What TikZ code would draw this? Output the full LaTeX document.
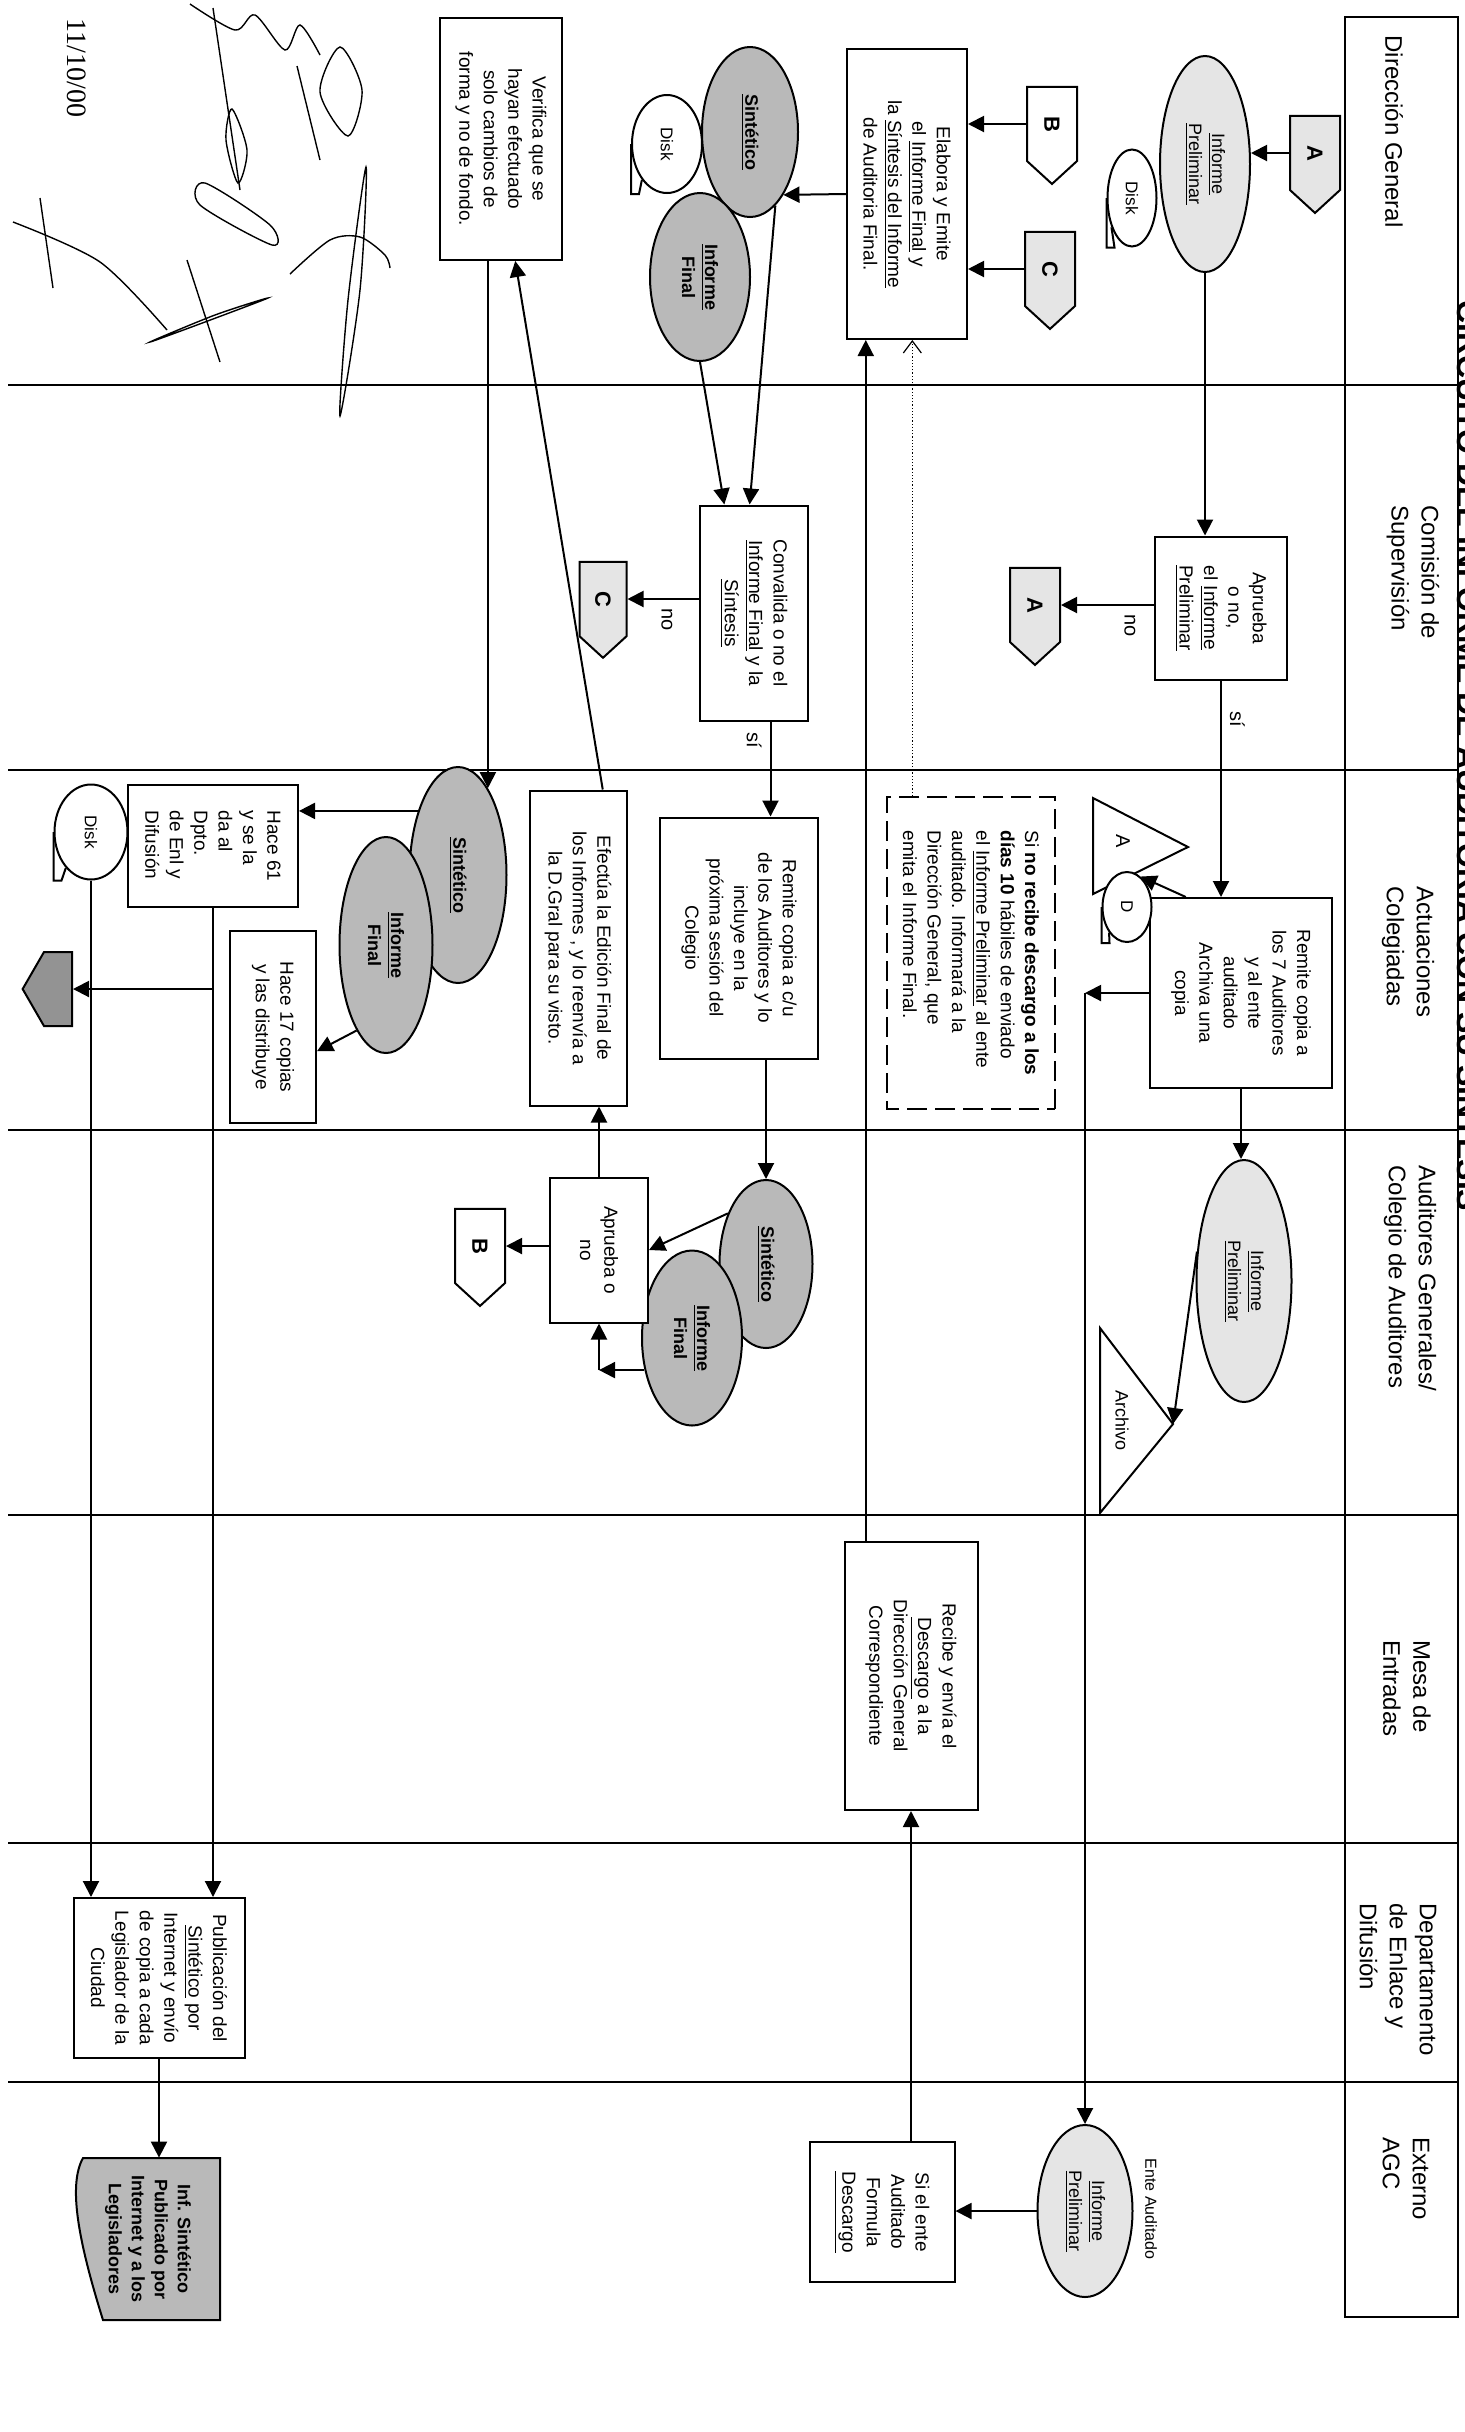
\documentclass[tikz,border=0pt]{standalone}
\usepackage{fontspec}
\setmainfont{Liberation Sans}
\newfontfamily\fechafont{Liberation Serif}
\usetikzlibrary{arrows.meta,shapes.geometric,shapes.symbols,calc}

\tikzset{
  lane/.style={line width=1pt},
  proc/.style={draw, line width=1pt, fill=white, align=center, inner sep=2pt,
    font=\fontsize{9.5}{12.2}\selectfont},
  dashbox/.style={proc, dash pattern=on 10pt off 4pt, align=left},
  docel/.style={draw, ellipse, line width=1pt, inner sep=0pt, align=center,
    font=\fontsize{9}{11.5}\selectfont},
  lightel/.style={docel, fill=gray!20},
  darkel/.style={docel, fill=gray!55, font=\fontsize{9}{11.5}\selectfont\bfseries},
  offpg/.style={draw, signal, signal to=east, signal pointer angle=95, line width=1pt,
    minimum width=48.5pt, minimum height=25pt, inner sep=0pt,
    font=\fontsize{11}{12}\selectfont\bfseries},
  diskst/.style={draw, ellipse, line width=1pt, fill=white, inner sep=0pt,
    font=\fontsize{8.5}{10}\selectfont},
  arr/.style={line width=1pt, -{Triangle[length=8pt,width=8pt]}},
  dotarr/.style={line width=0.6pt, densely dotted, -{Straight Barb[length=6pt,width=9pt]}},
  hdr/.style={anchor=west, align=left, inner sep=0pt, font=\fontsize{12}{15}\selectfont},
  lbl/.style={inner sep=1pt, font=\fontsize{10}{12}\selectfont},
  firma/.style={line width=0.7pt},
}
\newcommand{\disktail}[1]{\draw[line width=1pt] (#1.south) -- (#1.south -| #1.east) -- ++(0,8) -- (#1.325);}

\begin{document}
\begin{tikzpicture}[x=0.5pt, y=0.5pt, rotate=-90, transform shape]
\useasboundingbox (0,0) rectangle (2432,1464);
\fill[white] (0,0) rectangle (2432,1464);

% carriles
\foreach \ly in {385,770,1130,1515,1843,2082}
  \draw[lane] (\ly,8) -- (\ly,1458);
\draw[lane] (17,1345) rectangle (2317,1458);

\node[hdr] (hDG) at (35,1394) {Dirección General};
\node[hdr] (hCS) at (505,1413) {Comisión de\\Supervisión};
\node[hdr] (hAC) at (886,1408) {Actuaciones\\Colegiadas};
\node[hdr] (hAG) at (1165,1410) {Auditores Generales/\\Colegio de Auditores};
\node[hdr] (hME) at (1640,1407) {Mesa de\\Entradas};
\node[hdr] (hDE) at (1903,1398) {Departamento\\de Enlace y\\Difusión};
\node[hdr] (hEX) at (2137,1406) {Externo\\AGC};

\node[anchor=base west, inner sep=0pt, font=\bfseries\fontsize{16}{18}\selectfont] (titulo) at (300,1457) {CIRCUITO DEL INFORME DE AUDITORIA CON SU SINTESIS};

% fecha y firma
\node[inner sep=0pt, font=\fechafont\fontsize{14}{16}\selectfont] (fecha) at (68,77) {11/10/00};
\draw[firma] plot[smooth cycle] coordinates {(167,366) (290,360) (416,340) (300,348)};
\draw[firma] plot[smooth] coordinates {(274,290) (240,330) (237,360) (255,385) (268,390)};
\draw[firma] plot[smooth cycle] coordinates {(47,340) (90,362) (136,348) (92,320)};
\draw[firma] (66,297) -- (160,320);
\draw[firma] plot[smooth] coordinates {(4,190) (30,235) (15,255) (50,285) (25,300) (55,320)};
\draw[firma] plot[smooth cycle] coordinates {(342,150) (315,215) (298,268) (322,205)};
\draw[firma] (260,187) -- (362,220);
\draw[firma] plot[smooth cycle] coordinates {(183,205) (225,270) (245,272) (205,200)};
\draw[firma] (198,40) -- (288,53);
\draw[firma] plot[smooth] coordinates {(222,13) (262,100) (330,167)};
\draw[firma] (8,213) -- (190,240);
\draw[firma] plot[smooth cycle] coordinates {(109,232) (150,247) (183,238) (140,226)};

% Direccion General
\node[offpg, fill=gray!20] (cA1) at (153,1315) {A};
\node[lightel, minimum width=108pt, minimum height=45pt] (ipDG) at (164,1205) {\underline{Informe}\\\underline{Preliminar}};
\node[diskst, minimum width=48.5pt, minimum height=24.5pt] (dkA) at (198,1132) {Disk};
\disktail{dkA}
\node[offpg, fill=white] (cB1) at (124,1052) {B};
\node[offpg, fill=gray!20] (cC1) at (269,1050) {C};
\node[proc, minimum width=145pt, minimum height=60pt] (elab) at (194,907) {Elabora y Emite\\el \underline{Informe Final} y\\la \underline{Síntesis del Informe}\\de Auditoria Final.};
\node[diskst, minimum width=49pt, minimum height=35pt] (dkDG) at (144,667) {Disk};
\disktail{dkDG}
\node[darkel, minimum width=85pt, minimum height=48pt] (sinDG) at (132,750) {\underline{Sintético}};
\node[darkel, minimum width=84pt, minimum height=50pt] (finDG) at (277,700) {\underline{Informe}\\Final};
\node[proc, minimum width=121pt, minimum height=61pt] (verif) at (139,501) {Verifica que se\\hayan efectuado\\solo cambios de\\forma y no de fondo.};

% Comision de Supervision
\node[proc, minimum width=71.5pt, minimum height=66pt] (apr) at (608,1221) {Aprueba\\o no,\\el \underline{Informe}\\\underline{Preliminar}};
\node[offpg, fill=gray!20] (cA2) at (605,1035) {A};
\node[proc, minimum width=107.5pt, minimum height=54pt] (conv) at (613,754) {Convalida o no el\\\underline{Informe Final} y la\\\underline{Síntesis}};
\node[offpg, fill=gray!20, minimum width=48pt, minimum height=23.5pt] (cC2) at (599,603) {C};

% Actuaciones Colegiadas
\node[proc, minimum width=95pt, minimum height=91pt] (rem7) at (993,1241) {Remite copia a\\los 7 Auditores\\y al ente\\auditado\\Archiva una\\copia};
\draw[line width=1pt, fill=white] (798,1093) -- (894,1093) -- (847,1188) -- cycle;
\node[lbl] (letA) at (841,1123) {A};
\node[diskst, minimum width=35pt, minimum height=24.5pt] (dkD) at (907,1127) {D};
\disktail{dkD}
\node[dashbox, minimum width=156pt, minimum height=84pt] (dsh) at (953,971) {Si \textbf{no recibe descargo a los}\\\textbf{días 10} hábiles de enviado\\el \underline{Informe Preliminar} al ente\\auditado. Informará a la\\Dirección General, que\\emita el Informe Final.};
\node[proc, minimum width=120.5pt, minimum height=79pt] (remCu) at (938,739) {Remite copia a c/u\\de los Auditores y lo\\incluye en la\\próxima sesión del\\Colegio};
\node[proc, minimum width=157.5pt, minimum height=48.5pt] (efect) at (948,578) {Efectúa la Edición Final de\\los Informes , y lo reenvía a\\la D.Gral para su visto.};
\node[darkel, minimum width=108pt, minimum height=48.5pt] (sinAC) at (875,458) {\underline{Sintético}};
\node[darkel, minimum width=108pt, minimum height=46.5pt] (finAC) at (945,386) {\underline{Informe}\\Final};
\node[proc, align=left, minimum width=61pt, minimum height=85pt] (hace61) at (846,213) {Hace 61\\y se la\\da al\\Dpto.\\de Enl y\\Difusión};
\node[diskst, minimum width=47.5pt, minimum height=36.5pt] (dkAC) at (832,91) {Disk};
\disktail{dkAC}
\node[proc, minimum width=96pt, minimum height=43pt] (hace17) at (1027,273) {Hace 17 copias\\y las distribuye};
\node[draw, signal, signal to=south, signal pointer angle=120, line width=1pt, fill=gray!85,
  minimum width=37pt, minimum height=14pt, inner sep=0pt] (opg) at (989,58) {};

% Auditores Generales / Colegio
\node[lightel, minimum width=121pt, minimum height=47.5pt] (ipAG) at (1281,1244) {\underline{Informe}\\\underline{Preliminar}};
\draw[line width=1pt, fill=white] (1328,1100) -- (1513,1100) -- (1424,1173) coordinate (arcApex) -- cycle;
\node[lbl, font=\fontsize{9}{11}\selectfont] (archivo) at (1420,1122) {Archivo};
\node[darkel, minimum width=84pt, minimum height=46.5pt] (sinAG) at (1264,766) {\underline{Sintético}};
\node[darkel, minimum width=87.5pt, minimum height=50pt] (finAG) at (1338,692) {\underline{Informe}\\Final};
\node[proc, minimum width=72.5pt, minimum height=49pt] (aprNo) at (1250,599) {Aprueba o\\no};
\node[offpg, fill=white] (cB2) at (1246,480) {B};

% Mesa de Entradas
\node[proc, minimum width=134pt, minimum height=66.5pt] (rec) at (1676,911) {Recibe y envía el\\\underline{Descargo} a la\\Dirección General\\Correspondiente};

% Departamento de Enlace y Difusion
\node[proc, minimum width=80pt, minimum height=85.5pt] (pub) at (1978,159) {Publicación del\\\underline{Sintético} por\\Internet y envío\\de copia a cada\\Legislador de la\\Ciudad};
\filldraw[line width=1pt, fill=gray!55] (2158,220) -- (2320,220) -- (2320,103) .. controls (2240,78) and (2185,68) .. (2158,83) -- cycle;
\node[inner sep=0pt, align=center, minimum width=81pt, minimum height=72.5pt,
  font=\fontsize{9}{11.5}\selectfont\bfseries] (docI) at (2239,148) {Inf. Sintético\\Publicado por\\Internet y a los\\Legisladores};

% Externo AGC
\node[lightel, minimum width=86pt, minimum height=47.5pt] (ipEX) at (2211,1085) {\underline{Informe}\\\underline{Preliminar}};
\node[inner sep=0pt, font=\fontsize{8}{10}\selectfont] (ente) at (2209,1151) {Ente Auditado};
\node[proc, minimum width=70pt, minimum height=72.5pt] (dsc) at (2212,882) {Si el ente\\Auditado\\Formula\\\underline{Descargo}};

% conectores
\draw[arr] (cA1.south) -- (cA1.south |- ipDG.north);
\draw[arr] (ipDG.east) -- (ipDG.east -| apr.west);
\draw[arr] (cB1.south) -- (cB1.south |- elab.north);
\draw[arr] (cC1.south) -- (cC1.south |- elab.north);
\draw[arr] (elab.south) -- (sinDG.28);
\draw[arr] (finDG.east) -- ($(conv.north west)!0.77!(conv.south west)$);
\draw[arr] (sinDG.19) -- ($(conv.north west)!0.54!(conv.south west)$);
\draw[arr] (verif.east |- sinAC.161) -- (sinAC.161);
\draw[arr] ($(efect.north west)!0.25!(efect.south west)$) -- ($(verif.north east)!0.385!(verif.south east)$);
\draw[arr] (cA2.north |- apr.south) -- node[lbl, pos=0.26, right=3pt] {no} (cA2.north);
\draw[arr] (apr.east) -- node[lbl, pos=0.18, above=3pt] {sí} (apr.east -| rem7.west);
\draw[arr] (cC2.north |- conv.south) -- node[lbl, pos=0.45, right=3pt] {no} (cC2.north);
\coordinate (cvS) at ($(conv.north east)!0.35!(conv.south east)$);
\draw[arr] (cvS) -- node[lbl, pos=0.2, below=3pt] {sí} (cvS -| remCu.west);
\draw[arr] ($(rem7.north west)!0.8!(rem7.south west)$) -- (dkD.156);
\coordinate (k1) at (rem7.south |- ipEX.west);
\draw[arr] (rem7.south) -- (k1);
\draw[arr] (k1) -- (ipEX.west);
\draw[arr] (rem7.east) -- (rem7.east -| ipAG.west);
\draw[arr] (ipAG.238) -- (arcApex);
\coordinate (dq) at ($(dsh.north west)!0.845!(dsh.south west)$);
\draw[dotarr] (dq) -- (dq -| elab.east);
\coordinate (rq) at ($(rec.north west)!0.835!(rec.south west)$);
\draw[arr] (rq) -- (rq -| elab.east);
\draw[arr] (sinAG.west -| remCu.east) -- (sinAG.west);
\draw[arr] (aprNo.west) -- (aprNo.west -| efect.east);
\draw[arr] (sinAG.217) -- (aprNo.north);
\coordinate (k2) at (finAG.304 |- aprNo.east);
\draw[arr] (finAG.304) -- (k2);
\draw[arr] (k2) -- (aprNo.east);
\draw[arr] (cB2.north |- aprNo.south) -- (cB2.north);
\draw[arr] (sinAC.212) -- (sinAC.212 |- hace61.north);
\draw[arr] (finAC.341) -- ($(hace17.north west)!0.625!(hace17.north east)$);
\draw[arr] (hace61.east) -- (hace61.east -| pub.west);
\draw[arr] (opg.north |- hace61.east) -- (opg.north);
\draw[arr] (dkAC.east) -- (dkAC.east -| pub.west);
\draw[arr] (pub.east) -- (pub.east -| docI.west);
\draw[arr] (ipEX.south) -- (ipEX.south |- dsc.north);
\draw[arr] (dsc.west |- rec.east) -- (rec.east);
\end{tikzpicture}
\end{document}
